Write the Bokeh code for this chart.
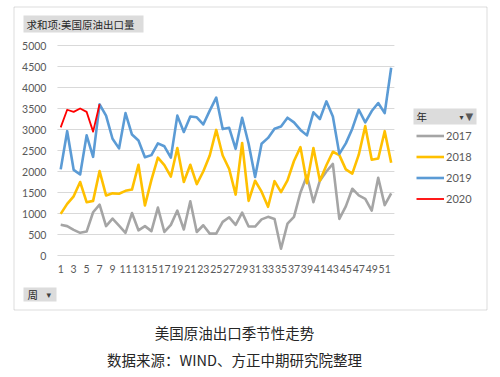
from bokeh.plotting import figure
from bokeh.models import Range1d, Label, BoxAnnotation, Legend, LegendItem
from bokeh.core.properties import value
from bokeh.embed import file_html
from bokeh.resources import INLINE

# ---- data ----
weeks = list(range(1, 53))
y2017 = [730, 700, 610, 540, 570, 1030, 1210, 700, 880, 710,
         540, 1010, 600, 700, 580, 1140, 560, 730, 1070, 620,
         1290, 560, 720, 520, 520, 800, 910, 730, 1020, 690,
         690, 860, 920, 870, 160, 760, 920, 1500, 1900, 1270,
         1780, 2000, 2180, 870, 1170, 1590, 1430, 1350, 1070, 1850,
         1200, 1480]
y2018 = [990, 1230, 1410, 1750, 1270, 1300, 2010, 1430, 1480, 1470,
         1540, 1570, 2160, 1190, 1800, 2330, 2150, 1880, 2560, 1750,
         2160, 1700, 2000, 2380, 2990, 2380, 2060, 1450, 2680, 1300,
         1780, 1520, 1160, 1770, 1510, 1790, 2250, 2580, 1720, 2560,
         1780, 2150, 2470, 2390, 2050, 1950, 2400, 3080, 2280, 2310,
         2960, 2210]
y2019 = [2050, 2960, 2040, 1930, 2860, 2350, 3600, 3330, 2780, 2550,
         3390, 2880, 2740, 2340, 2390, 2670, 2600, 2330, 3330, 2940,
         3310, 3290, 3120, 3450, 3760, 3010, 3040, 2540, 3280, 2660,
         1870, 2660, 2800, 3020, 3070, 3280, 3170, 2990, 2860, 3410,
         3250, 3670, 3310, 2420, 2670, 3020, 3470, 3170, 3440, 3630,
         3390, 4470]
weeks2020 = weeks[:7]
y2020 = [3050, 3470, 3420, 3500, 3420, 2950, 3600]
series_names = ["2017", "2018", "2019", "2020"]
x_ticks = list(range(1, 52, 2))
y_ticks = list(range(0, 5001, 500))
title_text = "求和项:美国原油出口量"
field_text = "周"
legend_title = "年"
caption1 = "美国原油出口季节性走势"
caption2 = "数据来源：WIND、方正中期研究院整理"

# ---- layout constants (pixels) ----
W, H = 496, 372
PX_W1 = 60.2        # x of week 1
PX_WEEK = 6.48      # px per week
Y_ZERO = 255.0      # y of value 0 (from top)
PX_UNIT = 0.042     # px per unit

colors = ["#A5A5A5", "#FFC000", "#5B9BD5", "#FF0000"]
TICK_FONT = "Lato"
CJK = "Noto Sans CJK SC"

p = figure(width=W, height=H, output_backend="svg", toolbar_location=None,
           title=None, x_axis_location=None, y_axis_location=None,
           x_range=Range1d(1 - PX_W1 / PX_WEEK, 1 + (W - PX_W1) / PX_WEEK),
           y_range=Range1d(-(H - Y_ZERO) / PX_UNIT, Y_ZERO / PX_UNIT),
           min_border=0)
p.background_fill_color = "white"
p.border_fill_color = "white"
p.outline_line_color = None
p.grid.visible = False

x_lo = weeks[0] - 0.5
x_hi = weeks[-1] + 0.5

# gridlines
p.segment(x0=[x_lo] * len(y_ticks), y0=y_ticks, x1=[x_hi] * len(y_ticks), y1=y_ticks,
          line_color="#d9d9d9", line_width=1)

# tick labels
p.text(x=[x_lo] * len(y_ticks), y=y_ticks, text=[str(t) for t in y_ticks],
       x_offset=-11, text_align="right", text_baseline="middle",
       text_font=value(TICK_FONT), text_font_size=value("10.5px"), text_color="#595959")
p.text(x=x_ticks, y=[y_ticks[0]] * len(x_ticks), text=[str(t) for t in x_ticks],
       y_offset=9, text_align="center", text_baseline="top",
       text_font=value(TICK_FONT), text_font_size=value("10.5px"), text_color="#595959")

r17 = p.line(weeks, y2017, line_color=colors[0], line_width=2.6, line_join="round")
r18 = p.line(weeks, y2018, line_color=colors[1], line_width=2.6, line_join="round")
r19 = p.line(weeks, y2019, line_color=colors[2], line_width=2.6, line_join="round")
r20 = p.line(weeks2020, y2020, line_color=colors[3], line_width=1.8, line_join="round")


def sbox(l, r, t, b, fill, line=None, alpha=1.0):
    # l, r: px from left; t, b: px from top
    return BoxAnnotation(left=l, right=r, top=H - t, bottom=H - b,
                         left_units="screen", right_units="screen",
                         top_units="screen", bottom_units="screen",
                         fill_color=fill, fill_alpha=alpha,
                         line_color=line, line_width=1)


def slabel(x, y, text, size, font, color, align="left"):
    return Label(x=x, y=H - y, x_units="screen", y_units="screen", text=text,
                 text_font=font, text_font_size=size, text_color=color,
                 text_align=align, text_baseline="middle")


# outer chart border and field buttons
p.add_layout(sbox(13.5, 486.5, 6.5, 309.5, None, "#8c8c8c", 0))
p.add_layout(sbox(23, 143, 15, 32, "#dcdcdc"))
p.add_layout(sbox(23, 56, 287, 301, "#dcdcdc"))
p.add_layout(sbox(413, 476, 108, 124, "#dcdcdc"))

p.add_layout(slabel(26, 23.5, title_text, "10.5px", CJK, "#262626"))
p.add_layout(slabel(27, 294, field_text, "10.5px", CJK, "#262626"))
p.add_layout(slabel(46, 294, "▾", "9px", "DejaVu Sans", "#404040"))
p.add_layout(slabel(416, 116, legend_title, "10.5px", CJK, "#262626"))
p.add_layout(slabel(459, 117, "▾", "8px", "DejaVu Sans", "#404040"))
p.add_layout(slabel(465, 116, "▼", "10px", "DejaVu Sans", "#595959"))
p.add_layout(slabel(234, 332, caption1, "14.5px", CJK, "#262626", "center"))
p.add_layout(slabel(234, 359, caption2, "14.5px", CJK, "#262626", "center"))

legend = Legend(items=[LegendItem(label=n, renderers=[r]) for n, r in
                       zip(series_names, [r17, r18, r19, r20])],
                location=(416, H - 206.5))
legend.background_fill_alpha = 0
legend.border_line_color = None
legend.padding = 0
legend.margin = 0
legend.spacing = 4
legend.glyph_width = 28
legend.glyph_height = 17
legend.label_height = 17
legend.label_standoff = 2
legend.label_text_font = TICK_FONT
legend.label_text_font_size = "11px"
legend.label_text_color = "#595959"
p.add_layout(legend)

open("out.html", "w").write(file_html(p, INLINE))
